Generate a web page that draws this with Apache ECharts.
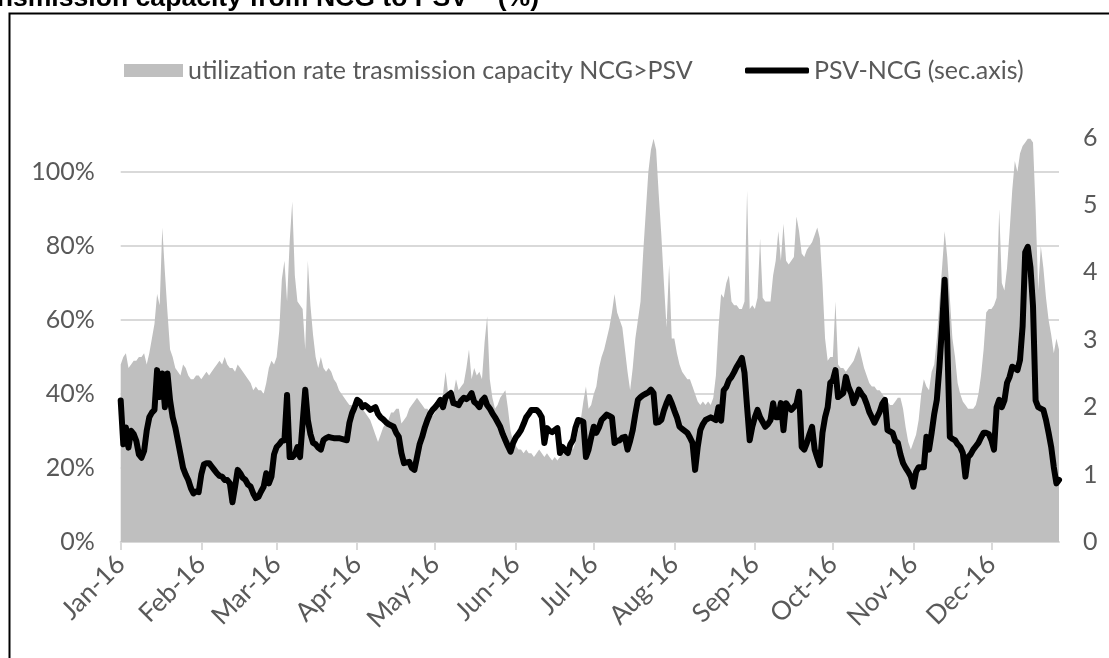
<!DOCTYPE html>
<html>
<head>
<meta charset="utf-8">
<script src="https://cdn.jsdelivr.net/npm/echarts@6/dist/echarts.min.js"></script>
<style>
html, body { margin: 0; padding: 0; background: #fff; }
#chart { width: 1109px; height: 658px; }
</style>
</head>
<body>
<div id="chart"></div>
<script>
// daily values from 1 Jan 2016, one row per month
var utilRate = [
  0.48,0.50,0.51,0.47,0.48,0.49,0.49,0.50,0.50,0.51,0.48,0.51,0.55,0.59,0.67,0.64,0.85,0.73,0.62,0.52,0.50,0.47,0.46,0.45,0.48,0.47,0.45,0.44,0.44,0.45,0.45,
  0.44,0.45,0.46,0.45,0.46,0.47,0.48,0.49,0.48,0.50,0.48,0.47,0.47,0.46,0.48,0.47,0.46,0.45,0.44,0.43,0.41,0.42,0.41,0.41,0.40,0.43,0.47,0.49,0.48,
  0.50,0.57,0.71,0.76,0.65,0.81,0.92,0.72,0.65,0.64,0.63,0.52,0.76,0.64,0.56,0.50,0.47,0.50,0.47,0.46,0.47,0.46,0.44,0.43,0.41,0.40,0.39,0.38,0.37,0.37,0.36,
  0.36,0.37,0.36,0.35,0.34,0.33,0.31,0.29,0.27,0.29,0.31,0.32,0.33,0.35,0.35,0.36,0.36,0.32,0.33,0.34,0.36,0.37,0.38,0.39,0.38,0.37,0.36,0.36,0.35,0.34,
  0.35,0.37,0.38,0.40,0.46,0.40,0.41,0.40,0.44,0.41,0.42,0.43,0.47,0.52,0.44,0.47,0.45,0.46,0.44,0.54,0.61,0.44,0.39,0.36,0.37,0.39,0.40,0.41,0.36,0.30,0.27,
  0.26,0.25,0.25,0.24,0.25,0.24,0.24,0.23,0.24,0.25,0.24,0.23,0.24,0.23,0.22,0.23,0.22,0.23,0.24,0.24,0.25,0.26,0.25,0.27,0.30,0.33,0.38,0.42,0.36,0.37,
  0.40,0.42,0.47,0.50,0.52,0.55,0.58,0.62,0.67,0.62,0.60,0.58,0.52,0.46,0.41,0.47,0.55,0.60,0.65,0.78,0.89,1.00,1.06,1.09,1.06,0.94,0.83,0.70,0.58,0.75,0.55,
  0.55,0.51,0.48,0.46,0.45,0.44,0.44,0.42,0.40,0.38,0.37,0.38,0.37,0.38,0.37,0.39,0.45,0.58,0.67,0.66,0.70,0.72,0.65,0.64,0.64,0.63,0.63,0.65,0.95,0.63,0.64,
  0.63,0.66,0.82,0.66,0.65,0.65,0.65,0.72,0.76,0.84,0.76,0.86,0.76,0.75,0.76,0.77,0.88,0.84,0.78,0.77,0.79,0.80,0.81,0.83,0.85,0.82,0.70,0.55,0.49,0.50,
  0.50,0.65,0.48,0.47,0.47,0.46,0.47,0.48,0.49,0.51,0.53,0.50,0.47,0.45,0.43,0.42,0.42,0.41,0.41,0.40,0.39,0.38,0.37,0.37,0.38,0.39,0.39,0.36,0.31,0.27,0.25,
  0.27,0.29,0.33,0.40,0.44,0.42,0.41,0.46,0.48,0.55,0.65,0.74,0.84,0.77,0.66,0.55,0.50,0.43,0.40,0.38,0.37,0.36,0.36,0.36,0.37,0.40,0.45,0.52,0.62,0.63,
  0.63,0.64,0.66,0.90,0.70,0.68,0.74,0.84,0.95,1.03,1.00,1.05,1.07,1.08,1.09,1.09,1.08,0.90,0.68,0.80,0.74,0.66,0.60,0.56,0.51,0.55,0.52
];

var psvNcg = [
  2.10,1.45,1.70,1.40,1.65,1.60,1.50,1.30,1.25,1.35,1.65,1.85,1.92,1.96,2.55,2.15,2.50,2.00,2.50,2.10,1.85,1.70,1.50,1.30,1.10,1.00,0.92,0.80,0.72,0.75,0.74,
  1.00,1.15,1.17,1.17,1.12,1.07,1.02,0.98,0.97,0.92,0.92,0.87,0.59,0.82,1.07,1.02,0.95,0.92,0.85,0.82,0.72,0.65,0.67,0.75,0.82,1.02,0.87,0.97,1.30,
  1.41,1.45,1.50,1.51,2.18,1.26,1.26,1.30,1.41,1.26,1.77,2.26,1.81,1.60,1.47,1.45,1.40,1.37,1.51,1.54,1.56,1.55,1.54,1.54,1.54,1.53,1.52,1.51,1.77,1.91,2.00,
  2.11,2.08,2.00,2.03,2.00,1.96,1.98,2.00,1.90,1.85,1.82,1.78,1.75,1.73,1.71,1.62,1.56,1.32,1.17,1.18,1.19,1.10,1.07,1.26,1.45,1.56,1.70,1.81,1.90,1.96,
  2.00,2.05,2.11,2.00,2.15,2.18,2.21,2.06,2.05,2.03,2.10,2.14,2.12,2.15,2.21,2.08,2.05,2.00,2.10,2.14,2.03,1.98,1.91,1.85,1.78,1.71,1.60,1.51,1.42,1.34,1.47,
  1.55,1.60,1.66,1.75,1.85,1.90,1.96,1.96,1.96,1.92,1.85,1.47,1.69,1.65,1.63,1.66,1.69,1.32,1.41,1.36,1.32,1.45,1.51,1.70,1.81,1.80,1.78,1.26,1.37,1.55,
  1.71,1.62,1.70,1.81,1.85,1.89,1.87,1.85,1.47,1.50,1.51,1.55,1.56,1.37,1.50,1.66,1.90,2.11,2.15,2.18,2.20,2.22,2.26,2.21,1.77,1.78,1.81,1.95,2.06,2.15,2.06,
  1.95,1.85,1.71,1.68,1.65,1.62,1.55,1.47,1.07,1.41,1.66,1.75,1.81,1.83,1.85,1.83,1.81,2.00,1.80,2.25,2.30,2.40,2.45,2.52,2.60,2.66,2.73,2.51,2.00,1.51,1.71,
  1.85,1.96,1.85,1.78,1.71,1.75,1.81,2.06,1.85,1.85,2.06,1.66,2.06,2.00,1.96,2.00,2.05,2.23,1.41,1.37,1.47,1.60,1.71,1.37,1.25,1.14,1.62,1.85,2.00,2.36,
  2.40,2.55,2.15,2.18,2.21,2.45,2.30,2.21,2.06,2.15,2.26,2.20,2.15,2.05,1.93,1.85,1.77,1.85,1.93,2.05,2.11,1.66,1.64,1.62,1.50,1.47,1.30,1.17,1.10,1.04,0.97,
  0.82,1.04,1.11,1.11,1.11,1.56,1.37,1.62,1.90,2.11,2.60,3.20,3.89,3.00,1.56,1.53,1.51,1.45,1.41,1.32,0.97,1.26,1.30,1.37,1.42,1.47,1.55,1.62,1.62,1.60,
  1.51,1.37,2.00,2.11,2.00,2.10,2.36,2.45,2.60,2.58,2.55,2.70,3.20,4.30,4.38,4.08,3.50,2.10,2.00,1.98,1.96,1.81,1.62,1.41,1.11,0.87,0.92
];

var monthLabels = ['Jan-16', 'Feb-16', 'Mar-16', 'Apr-16', 'May-16', 'Jun-16',
                   'Jul-16', 'Aug-16', 'Sep-16', 'Oct-16', 'Nov-16', 'Dec-16'];

var seriesNames = ['utilization rate trasmission capacity NCG>PSV', 'PSV-NCG (sec.axis)'];

// one category per day
var days = [];
for (var i = 0; i < utilRate.length; i++) {
  var d = new Date(Date.UTC(2016, 0, 1 + i));
  days.push(d.toISOString().slice(0, 10));
}
function isMonthStart(idx, val) { return val.slice(8) === '01'; }

var font = 'Lato';
var grey = '#595959';

var myChart = echarts.init(document.getElementById('chart'), null, { width: 1109, height: 658 });

var option = {
  animation: false,
  backgroundColor: '#fff',
  graphic: [
    {
      type: 'text', x: 539, y: -1,
      style: {
        text: 'transmission capacity from NCG to PSV \u2013 (%)',
        font: 'bold 26.6px "Liberation Sans", Arial, sans-serif',
        fill: '#000', align: 'right', verticalAlign: 'middle'
      }
    },
    {
      type: 'rect', x: 0, y: 0,
      shape: { x: 9.5, y: 13.5, width: 1300, height: 900 },
      style: { fill: 'none', stroke: '#000', lineWidth: 2 }
    }
  ],
  legend: [
    {
      left: 119, top: 53,
      itemWidth: 59, itemHeight: 13,
      textStyle: { fontFamily: font, fontSize: 25, color: grey },
      data: [{ name: seriesNames[0], icon: 'rect', itemStyle: { color: '#bfbfbf' } }]
    },
    {
      left: 740, top: 53,
      itemWidth: 64, itemHeight: 6,
      textStyle: { fontFamily: font, fontSize: 25, color: grey },
      data: [{ name: seriesNames[1], icon: 'roundRect', itemStyle: { color: '#000' } }]
    }
  ],
  grid: { left: 120.7, right: 50, top: 137.6, bottom: 116 },
  xAxis: {
    type: 'category',
    data: days,
    boundaryGap: false,
    axisLine: { lineStyle: { color: '#d9d9d9', width: 2 } },
    axisTick: { interval: isMonthStart, length: 8, lineStyle: { color: '#d9d9d9', width: 2 } },
    axisLabel: {
      interval: isMonthStart, rotate: 45, margin: 18,
      fontFamily: font, fontSize: 26, color: grey,
      formatter: function (v) { return monthLabels[+v.slice(5, 7) - 1]; }
    },
    splitLine: { show: false }
  },
  yAxis: [
    {
      type: 'value', min: 0, max: 1.093, interval: 0.2,
      axisLine: { show: false }, axisTick: { show: false },
      axisLabel: {
        margin: 26, fontFamily: font, fontSize: 25, color: grey, showMaxLabel: false,
        formatter: function (v) { return Math.round(v * 100) + '%'; }
      },
      splitLine: { showMaxLine: false, lineStyle: { color: '#d9d9d9', width: 2 } }
    },
    {
      type: 'value', min: 0, max: 6, interval: 1,
      axisLine: { show: false }, axisTick: { show: false },
      axisLabel: { margin: 24, fontFamily: font, fontSize: 25, color: grey },
      splitLine: { show: false }
    }
  ],
  series: [
    {
      name: seriesNames[0],
      type: 'line',
      data: utilRate,
      yAxisIndex: 0,
      showSymbol: false,
      symbol: 'none',
      color: '#bfbfbf',
      lineStyle: { width: 0 },
      areaStyle: { color: '#bfbfbf', opacity: 1 },
      z: 1
    },
    {
      name: seriesNames[1],
      type: 'line',
      data: psvNcg,
      yAxisIndex: 1,
      showSymbol: false,
      symbol: 'none',
      color: '#000',
      lineStyle: { width: 6, color: '#000', cap: 'round', join: 'round' },
      z: 3
    }
  ]
};

myChart.setOption(option);
</script>
</body>
</html>
